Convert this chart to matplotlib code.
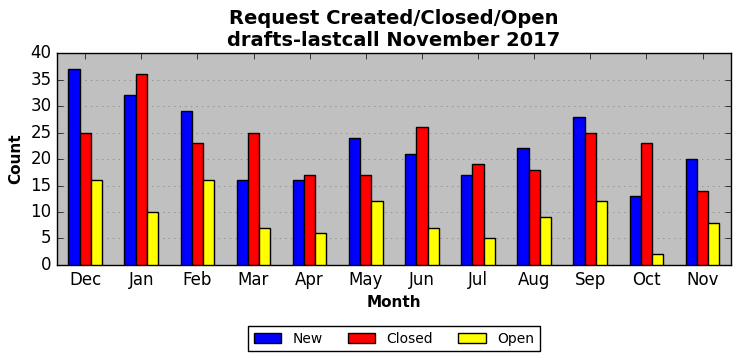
import numpy as np
import matplotlib
matplotlib.use('Agg')
import matplotlib.pyplot as plt

months = ['Dec', 'Jan', 'Feb', 'Mar', 'Apr', 'May', 'Jun', 'Jul', 'Aug', 'Sep', 'Oct', 'Nov']
new = [37, 32, 29, 16, 16, 24, 21, 17, 22, 28, 13, 20]
closed = [25, 36, 23, 25, 17, 17, 26, 19, 18, 25, 23, 14]
opened = [16, 10, 16, 7, 6, 12, 7, 5, 9, 12, 2, 8]

plt.style.use('classic')
fig = plt.figure(figsize=(7.41, 3.61), dpi=100, facecolor='white')
ax = fig.add_axes([0.077, 0.266, 0.909, 0.587])
ax.set_facecolor('#c0c0c0')

x = np.arange(len(months))
w = 0.2
ax.bar(x - w, new, w, align='center', color='blue', edgecolor='black', label='New', zorder=3)
ax.bar(x, closed, w, align='center', color='red', edgecolor='black', label='Closed', zorder=3)
ax.bar(x + w, opened, w, align='center', color='yellow', edgecolor='black', label='Open', zorder=3)

ax.set_xticks(x)
ax.set_xticklabels(months)
ax.set_xlim(-0.5, len(months) - 0.5)
ax.set_ylim(0, 40)
ax.yaxis.grid(True, linestyle=':', color='#808080', zorder=0)
ax.set_axisbelow(True)
ax.tick_params(labelsize=12)

ax.set_xlabel('Month', fontsize=11, fontweight='bold')
ax.set_ylabel('Count', fontsize=11, fontweight='bold')
ax.set_title('Request Created/Closed/Open\ndrafts-lastcall November 2017', fontsize=14, fontweight='bold')

# legend centred under the axes
ax.legend(loc='upper center', ncol=3, fontsize=10, bbox_to_anchor=(0.5, -0.257), columnspacing=1.8)

fig.savefig('out.png', dpi=100, facecolor='white')
